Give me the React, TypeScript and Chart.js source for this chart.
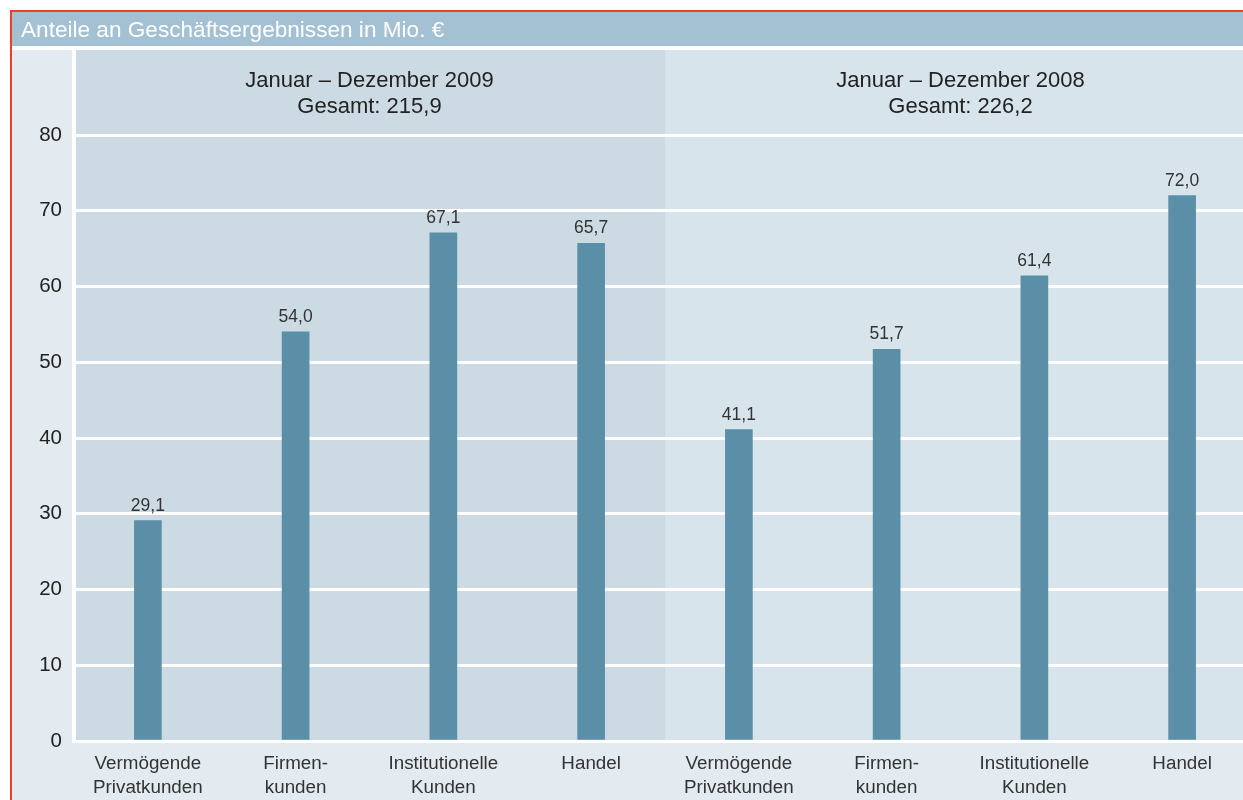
import React, { useEffect, useRef } from "react";
import { Chart, registerables } from "chart.js";

Chart.register(...registerables);

const chartTitle = "Anteile an Geschäftsergebnissen in Mio. €";
const periodTitles = ["Januar – Dezember 2009", "Januar – Dezember 2008"];
const periodTotals = ["Gesamt: 215,9", "Gesamt: 226,2"];
const categories: string[][] = [
  ["Vermögende", "Privatkunden"],
  ["Firmen-", "kunden"],
  ["Institutionelle", "Kunden"],
  ["Handel"],
  ["Vermögende", "Privatkunden"],
  ["Firmen-", "kunden"],
  ["Institutionelle", "Kunden"],
  ["Handel"],
];
const values2009 = [29.1, 54.0, 67.1, 65.7];
const values2008 = [41.1, 51.7, 61.4, 72.0];
const yTicks = [0, 10, 20, 30, 40, 50, 60, 70, 80];

const FONT = "'Liberation Sans', Arial, sans-serif";
const fmt = (v: number) => v.toFixed(1).replace(".", ",");

const decorPlugin = {
  id: "decor",
  beforeDraw(chart: any) {
    const { ctx, chartArea, width, height } = chart;
    const x = chart.scales.x;
    const mid = (x.getPixelForValue(3) + x.getPixelForValue(4)) / 2;
    ctx.save();
    ctx.fillStyle = "#ffffff";
    ctx.fillRect(0, 0, width, height);
    // red frame
    ctx.fillStyle = "#ee3e2c";
    ctx.fillRect(10, 10, width - 10, 2);
    ctx.fillRect(10, 10, 2, height - 10);
    // title bar
    ctx.fillStyle = "#a3c1d2";
    ctx.fillRect(12, 12, width - 12, 34);
    ctx.fillStyle = "#ffffff";
    ctx.font = `22.6px ${FONT}`;
    ctx.textBaseline = "alphabetic";
    ctx.textAlign = "left";
    ctx.fillText(chartTitle, 21, 37);
    // content background
    ctx.fillStyle = "#e3ebf0";
    ctx.fillRect(12, 50, width - 12, height - 50);
    const top = 50;
    ctx.fillStyle = "#ccdbe3";
    ctx.fillRect(chartArea.left, top, mid - chartArea.left, chartArea.bottom - top);
    ctx.fillStyle = "#d7e4eb";
    ctx.fillRect(mid, top, chartArea.right - mid, chartArea.bottom - top);
    // white vertical axis line
    ctx.fillStyle = "#ffffff";
    ctx.fillRect(chartArea.left - 2, top, 4, chartArea.bottom - top + 2);
    // period headers
    ctx.fillStyle = "#222222";
    ctx.font = `22px ${FONT}`;
    ctx.textAlign = "center";
    const centers = [(chartArea.left + mid) / 2, (mid + chartArea.right) / 2];
    for (let i = 0; i < 2; i++) {
      ctx.fillText(periodTitles[i], centers[i], 87);
      ctx.fillText(periodTotals[i], centers[i], 113);
    }
    ctx.restore();
  },
  afterDatasetsDraw(chart: any) {
    const { ctx } = chart;
    const meta = chart.getDatasetMeta(0);
    const data = chart.data.datasets[0].data as number[];
    ctx.save();
    ctx.fillStyle = "#333333";
    ctx.font = `17.5px ${FONT}`;
    ctx.textAlign = "center";
    ctx.textBaseline = "alphabetic";
    meta.data.forEach((bar: any, i: number) => {
      ctx.fillText(fmt(data[i]), bar.x, bar.y - 10);
    });
    ctx.restore();
  },
};

export default function App() {
  const ref = useRef<HTMLCanvasElement>(null);
  useEffect(() => {
    if (!ref.current) return;
    const chart = new Chart(ref.current, {
      type: "bar",
      data: {
        labels: categories,
        datasets: [
          {
            data: [...values2009, ...values2008],
            backgroundColor: "#5b8fa8",
            barThickness: 27,
          },
        ],
      },
      options: {
        responsive: false,
        animation: false,
        layout: { padding: { top: 135, left: 0, right: 0, bottom: 0 } },
        plugins: { legend: { display: false }, tooltip: { enabled: false } },
        scales: {
          x: {
            grid: { display: false, drawTicks: false },
            border: { display: false },
            ticks: {
              color: "#333333",
              font: { family: FONT, size: 18.8, lineHeight: "24px" },
              padding: 11,
              maxRotation: 0,
              autoSkip: false,
            },
            afterFit: (s: any) => {
              s.height = 59;
            },
          },
          y: {
            min: 0,
            max: 80,
            afterBuildTicks: (s: any) => {
              s.ticks = yTicks.map((v) => ({ value: v }));
            },
            grid: { color: "#ffffff", lineWidth: 3, drawTicks: false },
            border: { display: false },
            ticks: {
              color: "#222222",
              font: { family: FONT, size: 20.5 },
              padding: 12,
            },
            afterFit: (s: any) => {
              s.width = 74;
            },
          },
        },
      },
      plugins: [decorPlugin],
    });
    return () => chart.destroy();
  }, []);
  return (
    <div style={{ position: "fixed", left: 0, top: 0, width: 1256, height: 800 }}>
      <canvas ref={ref} width={1256} height={800} style={{ width: 1256, height: 800 }} />
    </div>
  );
}
